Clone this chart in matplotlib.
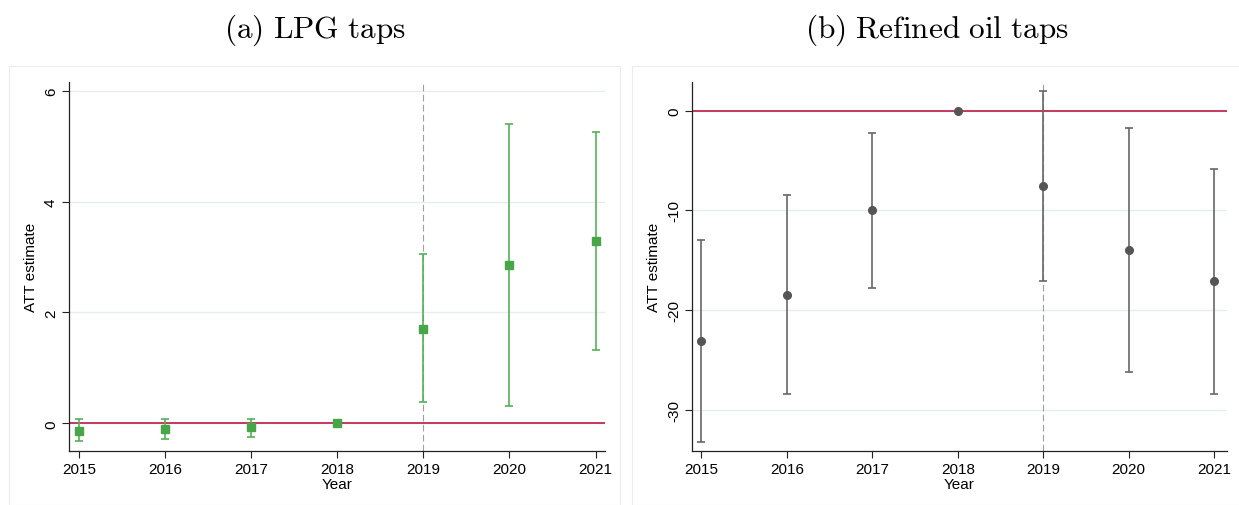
import matplotlib
matplotlib.use("Agg")
import matplotlib.pyplot as plt
from matplotlib.patches import Rectangle
import numpy as np

plt.rcParams['font.family'] = ['Liberation Sans', 'DejaVu Sans']
plt.rcParams['mathtext.fontset'] = 'cm'

years = [2015, 2016, 2017, 2018, 2019, 2020, 2021]

# event-study estimates with 95% confidence bounds
lpg_att = [-0.13, -0.10, -0.07, 0.0, 1.71, 2.86, 3.29]
lpg_lo = [-0.32, -0.28, -0.24, 0.0, 0.38, 0.32, 1.33]
lpg_hi = [0.07, 0.08, 0.08, 0.0, 3.06, 5.41, 5.26]

oil_att = [-23.1, -18.45, -10.0, 0.0, -7.6, -14.0, -17.1]
oil_lo = [-33.2, -28.4, -17.8, 0.0, -17.1, -26.2, -28.4]
oil_hi = [-13.0, -8.45, -2.2, 0.0, 1.98, -1.75, -5.85]

lpg_ticks = [0, 2, 4, 6]
oil_ticks = [0, -10, -20, -30]

W, H = 1239, 506
fig = plt.figure(figsize=(W / 100, H / 100), dpi=100)

# light frames round each panel
for x0, x1 in [(9, 620), (632, 1240)]:
    fig.add_artist(Rectangle((x0 / W, 0), (x1 - x0) / W, (H - 67) / H,
                             transform=fig.transFigure, facecolor='white',
                             edgecolor='#ececec', lw=0.8, zorder=0))

ax1 = fig.add_axes([69 / W, (H - 452) / H, 536 / W, 369 / H])
ax2 = fig.add_axes([692 / W, (H - 452) / H, 535 / W, 369 / H])

def style(ax, ticks, ylim, xlim):
    ax.set_facecolor('none')
    ax.set_xlim(*xlim)
    ax.set_ylim(*ylim)
    ax.set_xticks(years)
    ax.set_yticks(ticks)
    ax.set_yticklabels([str(t) for t in ticks], rotation=90, va='center')
    for t in ticks:
        ax.axhline(t, color='#e4eef0', lw=1.0, zorder=0)
    for s in ['top', 'right']:
        ax.spines[s].set_visible(False)
    for s in ['left', 'bottom']:
        ax.spines[s].set_color('#222222')
        ax.spines[s].set_linewidth(0.9)
    ax.tick_params(axis='both', direction='out', length=5, width=0.8,
                   color='#222222', labelsize=11, pad=3)
    ax.set_xlabel('Year', fontsize=11, labelpad=1)
    ax.set_ylabel('ATT estimate', fontsize=11, labelpad=4)
    ax.axvline(2019, color='#a0a0a0', lw=0.8, dashes=(6, 3), zorder=1)
    ax.axhline(0, color='#c43a5f', lw=1.4, zorder=2)

def draw(ax, est, lo, hi, color, ecolor, marker):
    est = np.array(est)
    yerr = [est - np.array(lo), np.array(hi) - est]
    ax.errorbar(years, est, yerr=yerr, fmt=marker, color=color, ecolor=ecolor,
                elinewidth=1.2, capsize=3, capthick=1.2, markersize=5.5, zorder=3)

style(ax1, lpg_ticks, (-0.5, 6.16), (2014.885, 2021.11))
draw(ax1, lpg_att, lpg_lo, lpg_hi, '#47a647', '#55b055', 's')

style(ax2, oil_ticks, (-34.15, 2.88), (2014.89, 2021.15))
draw(ax2, oil_att, oil_lo, oil_hi, '#555555', '#676767', 'o')

fig.text(315 / W, 1 - 30 / H, r'$\mathrm{(a)\ LPG\ taps}$', fontsize=22.5,
         ha='center', va='center')
fig.text(937 / W, 1 - 30 / H, r'$\mathrm{(b)\ Refined\ oil\ taps}$', fontsize=22.5,
         ha='center', va='center')

fig.savefig('out.png', dpi=100)
